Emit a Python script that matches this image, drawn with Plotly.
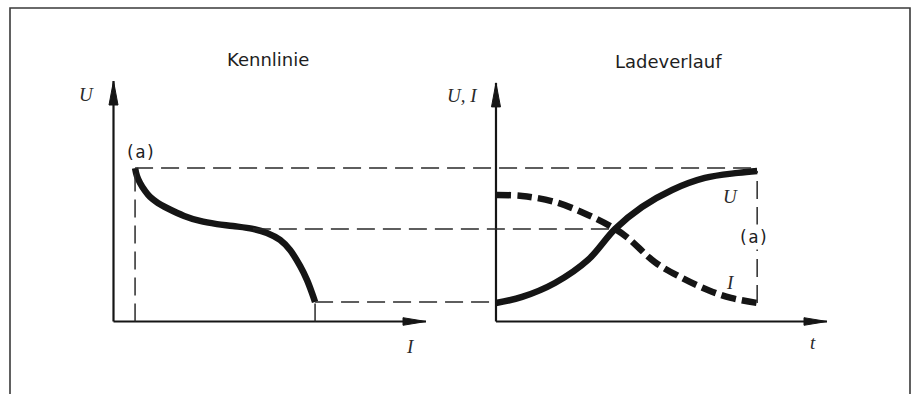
import plotly.graph_objects as go

# ---- data -------------------------------------------------------------
# Kennlinie: terminal voltage U over charging current I
kenn_I = [0.69, 0.75, 0.85, 1.01, 1.17, 1.42, 1.71, 2.26, 2.77, 3.31, 3.82, 4.46,
          4.91, 5.33, 5.65, 5.97, 6.19, 6.35, 6.45]
kenn_U = [6.38, 6.05, 5.76, 5.43, 5.18, 4.93, 4.72, 4.39, 4.18, 4.05, 3.97, 3.85,
          3.68, 3.39, 2.97, 2.31, 1.73, 1.19, 0.81]

# Ladeverlauf: voltage and current over charging time t
lade_t_U = [0.0, 0.79, 1.78, 2.78, 3.60, 4.41, 5.32, 6.31, 7.31, 7.89]
lade_U = [0.77, 1.02, 1.60, 2.56, 3.85, 4.76, 5.47, 5.97, 6.18, 6.26]
lade_t_I = [0.0, 0.79, 1.78, 2.78, 3.60, 3.99, 4.80, 5.62, 6.40, 7.10, 7.89]
lade_I = [5.26, 5.22, 4.97, 4.43, 3.85, 3.47, 2.47, 1.81, 1.31, 0.98, 0.77]

panel_titles = ["Kennlinie", "Ladeverlauf"]
axis_labels_left = ["U", "I"]
axis_labels_right = ["U, I", "t"]
curve_labels = ["U", "I"]
mark_label = "(a)"

# ---- layout constants -------------------------------------------------
W, H = 914, 394
AX_TIP = 10.0                 # arrow tips of the drawn axes (data units)
LX_RANGE = [-3.632, 10.992]   # I axis
RX_RANGE = [-1.178, 12.628]   # t axis
Y_RANGE = [-3.015, 13.368]    # U axis (shared)
LEFT_DOM = [0.0, 0.5]
RIGHT_DOM = [0.5, 1.0]

INK = "#151515"
GUIDE = "#2a2a2a"
GUIDE_DASH = "18px,8px"


def to_paper(v, rng, dom):
    return dom[0] + (v - rng[0]) / (rng[1] - rng[0]) * (dom[1] - dom[0])


def lx(v):
    return to_paper(v, LX_RANGE, LEFT_DOM)


def rx(v):
    return to_paper(v, RX_RANGE, RIGHT_DOM)


def yp(v):
    return to_paper(v, Y_RANGE, [0.0, 1.0])


fig = go.Figure()

# curves
fig.add_trace(go.Scatter(x=kenn_I, y=kenn_U, mode="lines", xaxis="x", yaxis="y",
                         line=dict(color=INK, width=6.5, shape="spline", smoothing=1.0),
                         hoverinfo="skip"))
fig.add_trace(go.Scatter(x=lade_t_U, y=lade_U, mode="lines", xaxis="x2", yaxis="y2",
                         line=dict(color=INK, width=6.5, shape="spline", smoothing=1.0),
                         hoverinfo="skip"))
fig.add_trace(go.Scatter(x=lade_t_I, y=lade_I, mode="lines", xaxis="x2", yaxis="y2",
                         line=dict(color=INK, width=6.5, shape="spline", smoothing=1.0,
                                   dash="15px,6px"),
                         hoverinfo="skip"))

shapes = []

# frame (open at the bottom edge)
fx0, fx1, fy = 10 / W, 910 / W, 1 - 8 / H
shapes.append(dict(type="path", xref="paper", yref="paper",
                   path=f"M{fx0},-0.05 L{fx0},{fy} L{fx1},{fy} L{fx1},-0.05",
                   line=dict(color="#3a3a3a", width=1.6)))

# axes with arrow heads
for xr, yr, ytip in (("x", "y", AX_TIP), ("x2", "y2", AX_TIP - 0.08)):
    shapes.append(dict(type="line", xref=xr, yref=yr, x0=0, y0=0, x1=0, y1=ytip,
                       line=dict(color=INK, width=2.2)))
    shapes.append(dict(type="line", xref=xr, yref=yr, x0=0, y0=0, x1=AX_TIP, y1=0,
                       line=dict(color=INK, width=2.2)))
    shapes.append(dict(type="path", xref=xr, yref=yr, xsizemode="pixel", ysizemode="pixel",
                       xanchor=0, yanchor=ytip, path="M0,0 L-4.5,-24 L4.5,-24 Z",
                       fillcolor=INK, line=dict(color=INK, width=1)))
    shapes.append(dict(type="path", xref=xr, yref=yr, xsizemode="pixel", ysizemode="pixel",
                       xanchor=AX_TIP, yanchor=0, path="M0,0 L-23,3.8 L-23,-3.8 Z",
                       fillcolor=INK, line=dict(color=INK, width=1)))

guide = dict(color=GUIDE, width=1.5, dash=GUIDE_DASH)

# vertical guides in the Kennlinie
shapes.append(dict(type="line", xref="x", yref="y", x0=kenn_I[0], x1=kenn_I[0],
                   y0=0, y1=kenn_U[0], line=guide))
shapes.append(dict(type="line", xref="x", yref="y", x0=kenn_I[-1], x1=kenn_I[-1],
                   y0=0, y1=kenn_U[-1], line=guide))

# horizontal guides linking both diagrams
i_mid = kenn_U.index(lade_U[4])
shapes.append(dict(type="line", xref="paper", yref="paper",
                   x0=lx(kenn_I[0]), x1=rx(lade_t_U[-1]),
                   y0=yp(kenn_U[0]), y1=yp(kenn_U[0]), line=guide))
shapes.append(dict(type="line", xref="paper", yref="paper",
                   x0=lx(kenn_I[i_mid]), x1=rx(lade_t_U[4]),
                   y0=yp(kenn_U[i_mid]), y1=yp(kenn_U[i_mid]), line=guide))
shapes.append(dict(type="line", xref="paper", yref="paper",
                   x0=lx(kenn_I[-1]), x1=rx(0),
                   y0=yp(kenn_U[-1]), y1=yp(kenn_U[-1]), line=guide))

# end-of-charge span in the Ladeverlauf
shapes.append(dict(type="line", xref="x2", yref="y2", x0=lade_t_U[-1], x1=lade_t_U[-1],
                   y0=lade_I[-1], y1=lade_U[-1], line=guide))

title_font = dict(family="DejaVu Sans", size=18, color="#1e1e1e")
ital = dict(family="Liberation Serif", size=19, color="#2a2a2a", style="italic")
mono = dict(family="DejaVu Sans Mono", size=17, color="#1e1e1e")

annotations = [
    dict(text=panel_titles[0], x=4.94, y=10.91, xref="x", yref="y", font=title_font),
    dict(text=panel_titles[1], x=5.20, y=10.83, xref="x2", yref="y2", font=title_font),
    dict(text=axis_labels_left[0], x=-0.85, y=9.42, xref="x", yref="y", font=ital),
    dict(text=axis_labels_left[1], x=9.49, y=-1.06, xref="x", yref="y", font=ital),
    dict(text=axis_labels_right[0], x=-1.0, y=9.38, xref="x2", yref="y2", font=ital),
    dict(text=axis_labels_right[1], x=9.58, y=-0.89, xref="x2", yref="y2", font=ital),
    dict(text=curve_labels[0], x=7.07, y=5.18, xref="x2", yref="y2", font=ital),
    dict(text=curve_labels[1], x=7.07, y=1.64, xref="x2", yref="y2", font=ital),
    dict(text=mark_label, x=0.85, y=7.05, xref="x", yref="y", font=mono),
    dict(text=mark_label, x=7.79, y=3.51, xref="x2", yref="y2", font=mono,
         bgcolor="white", borderpad=2),
]
for a in annotations:
    a["showarrow"] = False

hidden = dict(visible=False, showgrid=False, zeroline=False, fixedrange=True)
fig.update_layout(
    width=W, height=H,
    margin=dict(l=0, r=0, t=0, b=0),
    paper_bgcolor="white", plot_bgcolor="white",
    showlegend=False,
    xaxis=dict(domain=LEFT_DOM, range=LX_RANGE, anchor="y", **hidden),
    yaxis=dict(domain=[0, 1], range=Y_RANGE, anchor="x", **hidden),
    xaxis2=dict(domain=RIGHT_DOM, range=RX_RANGE, anchor="y2", **hidden),
    yaxis2=dict(domain=[0, 1], range=Y_RANGE, anchor="x2", matches="y", **hidden),
    shapes=shapes,
    annotations=annotations,
)

fig.write_html("out.html", config=dict(displayModeBar=False))
